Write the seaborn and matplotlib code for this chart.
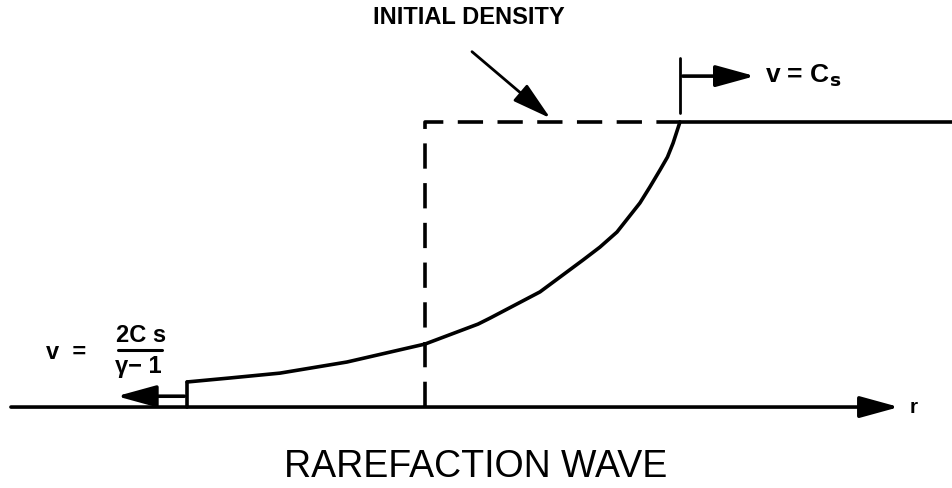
import pandas as pd
import seaborn as sns
import matplotlib.pyplot as plt

# rarefaction profile (r normalised: 0 = initial discontinuity, 1 = head of wave)
r_wave = [-0.933, -0.765, -0.569, -0.306, 0.0, 0.208, 0.255, 0.451, 0.620, 0.686,
          0.753, 0.843, 0.882, 0.922, 0.951, 0.973, 1.0]
rho_wave = [0.088, 0.102, 0.119, 0.158, 0.221, 0.291, 0.312, 0.404, 0.516, 0.561,
            0.614, 0.716, 0.772, 0.832, 0.877, 0.926, 1.0]

# initial density (step)
r_init = [0.0, 0.0, 1.0]
rho_init = [0.0, 1.0, 1.0]

r_tail = -0.933
r_head = 1.0
r_min, r_max = -1.667, 2.067
rho_min, rho_max = -0.284, 1.428

sns.set_theme(style="white")
plt.rcParams["font.family"] = ["Liberation Sans", "DejaVu Sans"]
plt.rcParams["text.color"] = "black"

fig = plt.figure(figsize=(9.52, 4.88), dpi=100)
ax = fig.add_axes([0, 0, 1, 1])
ax.set_xlim(r_min, r_max)
ax.set_ylim(rho_min, rho_max)
ax.axis("off")

lw = 2.6
wave = pd.DataFrame({"r": r_wave, "rho": rho_wave})
sns.lineplot(data=wave, x="r", y="rho", ax=ax, color="black", lw=lw, sort=False, estimator=None)

# initial density, dashed
ax.plot(r_init, rho_init, color="black", lw=lw, ls=(0, (7, 4)))
# undisturbed gas to the right
ax.plot([r_head, r_max], [1.0, 1.0], color="black", lw=lw)
# tail step at front of rarefaction
ax.plot([r_tail, r_tail], [0.0, rho_wave[0]], color="black", lw=lw)

head = "-|>,head_length=2.0,head_width=0.55"

# r axis
ax.annotate("", xy=(1.87, 0.0), xytext=(-1.635, 0.0),
            arrowprops=dict(arrowstyle=head, color="black", lw=lw))
ax.text(1.9, 0.0, "r", fontsize=15, fontweight="bold", va="center", ha="left")

# tail velocity arrow
ax.annotate("", xy=(-1.22, 0.038), xytext=(r_tail, 0.038),
            arrowprops=dict(arrowstyle=head, color="black", lw=lw))
ax.text(-1.408, 0.193, "v  =", fontsize=17, fontweight="bold", va="center", ha="center")
ax.text(-1.115, 0.252, "2C s", fontsize=17, fontweight="bold", va="center", ha="center")
ax.plot([-1.204, -1.031], [0.2, 0.2], color="black", lw=2.2)
ax.text(-1.125, 0.142, "γ− 1", fontsize=17, fontweight="bold", va="center", ha="center")

# head velocity arrow
ax.plot([r_head, r_head], [1.032, 1.225], color="black", lw=2)
ax.annotate("", xy=(1.305, 1.161), xytext=(r_head, 1.161),
            arrowprops=dict(arrowstyle=head, color="black", lw=lw))
ax.text(1.335, 1.161, "v = C$_\\mathbf{s}$", fontsize=19, fontweight="bold", va="center", ha="left")

# initial density label
ax.text(0.173, 1.365, "INITIAL DENSITY", fontsize=17, fontweight="bold", va="center", ha="center")
ax.annotate("", xy=(0.5, 1.007), xytext=(0.176, 1.253),
            arrowprops=dict(arrowstyle=head, color="black", lw=2))

ax.text(0.2, -0.21, "RAREFACTION WAVE", fontsize=27, va="center", ha="center")

fig.savefig("out.png", dpi=100)
